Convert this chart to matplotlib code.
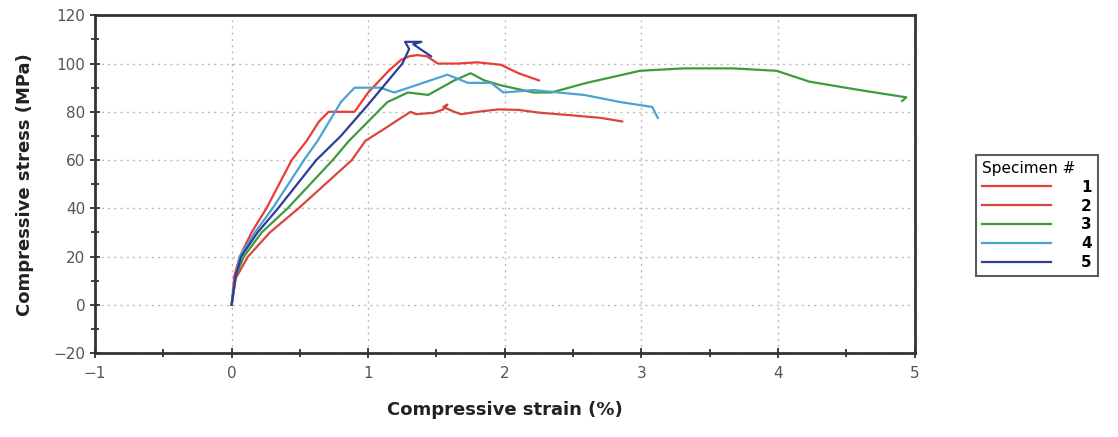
import matplotlib
matplotlib.use("Agg")
import matplotlib.pyplot as plt
from matplotlib.ticker import MultipleLocator

# Data (strain in %, stress in MPa)
s1_strain = [0, 0.02, 0.06, 0.146, 0.255, 0.44, 0.55, 0.64, 0.71, 0.9, 1.0, 1.15, 1.24, 1.30, 1.36, 1.43, 1.51, 1.65, 1.8, 1.97, 2.1, 2.25]
s1_stress = [0, 12, 20, 30, 40, 60, 68, 76, 80, 80, 88, 97, 101.5, 103, 103.5, 103, 100, 100, 100.5, 99.5, 96, 93]

s2_strain = [0, 0.03, 0.12, 0.28, 0.49, 0.88, 0.98, 1.12, 1.2, 1.31, 1.35, 1.48, 1.55, 1.58, 1.55, 1.63, 1.68, 1.8, 1.95, 2.1, 2.26, 2.5, 2.7, 2.86]
s2_stress = [0, 11, 20, 30, 40, 60, 68, 73, 76, 80, 79, 79.6, 81, 83, 82, 80, 79, 80, 81, 80.8, 79.6, 78.5, 77.5, 76]

s3_strain = [0, 0.03, 0.09, 0.22, 0.41, 0.74, 0.86, 1.0, 1.14, 1.29, 1.44, 1.63, 1.75, 1.85, 1.97, 2.21, 2.34, 2.6, 2.99, 3.31, 3.67, 3.99, 4.23, 4.6, 4.94, 4.91]
s3_stress = [0, 12, 20, 30, 40, 60, 68, 76, 84, 88, 87, 93, 96, 93, 91, 88, 88, 92, 97, 98, 98, 97, 92.5, 89, 86, 84.5]

s4_strain = [0, 0.03, 0.06, 0.17, 0.30, 0.53, 0.63, 0.80, 0.90, 1.0, 1.09, 1.19, 1.35, 1.58, 1.73, 1.9, 1.99, 2.21, 2.58, 2.85, 3.08, 3.12]
s4_stress = [0, 12, 20, 30, 40, 60, 68, 84, 90, 90, 90, 88, 91, 95.4, 92, 92, 88, 89, 87, 84, 82, 77.5]

s5_strain = [0, 0.03, 0.07, 0.19, 0.34, 0.62, 0.8, 1.0, 1.25, 1.30, 1.27, 1.39, 1.33, 1.46]
s5_stress = [0, 12, 20, 30, 40, 60, 70, 83, 100, 106, 109, 109, 108, 103]

specimens = ["1", "2", "3", "4", "5"]
colors = ["#ec3b36", "#d9463f", "#3d9b3d", "#4aa3d2", "#2b3e98"]

fig = plt.figure(figsize=(11.18, 4.37), dpi=100)
ax = fig.add_axes([0.085, 0.192, 0.733, 0.773])

series = [(s1_strain, s1_stress), (s2_strain, s2_stress), (s3_strain, s3_stress),
          (s4_strain, s4_stress), (s5_strain, s5_stress)]
for (x, y), lab, c in zip(series, specimens, colors):
    ax.plot(x, y, color=c, lw=1.6, label=lab)

ax.set_xlim(-1, 5)
ax.set_ylim(-20, 120)
ax.xaxis.set_major_locator(MultipleLocator(1))
ax.xaxis.set_minor_locator(MultipleLocator(0.5))
ax.yaxis.set_major_locator(MultipleLocator(20))
ax.yaxis.set_minor_locator(MultipleLocator(10))
ax.tick_params(which="both", direction="inout", color="#333333", width=1.3)
ax.tick_params(which="major", length=7, labelsize=11, labelcolor="#555555")
ax.tick_params(which="minor", length=6)
ax.tick_params(axis="x", pad=6)
for sp in ax.spines.values():
    sp.set_linewidth(2)
    sp.set_color("#333333")

ax.grid(True, which="major", linestyle=(0, (1.5, 3)), color="#bbbbbb", lw=1)

ax.set_xlabel("Compressive strain (%)", fontsize=13, fontweight="bold", color="#222222", labelpad=14)
ax.set_ylabel("Compressive stress (MPa)", fontsize=13, fontweight="bold", color="#222222", labelpad=14)

leg = fig.legend(loc="upper left", bbox_to_anchor=(0.866, 0.663), title="Specimen #",
                 frameon=True, fancybox=False, edgecolor="#333333", fontsize=11,
                 title_fontsize=11, handlelength=4.5, handletextpad=2.0,
                 labelspacing=0.25, borderpad=0.4)
leg.get_frame().set_linewidth(1.5)
leg._legend_box.align = "left"
for t in leg.get_texts():
    t.set_fontweight("bold")

fig.savefig("out.png", dpi=100)
